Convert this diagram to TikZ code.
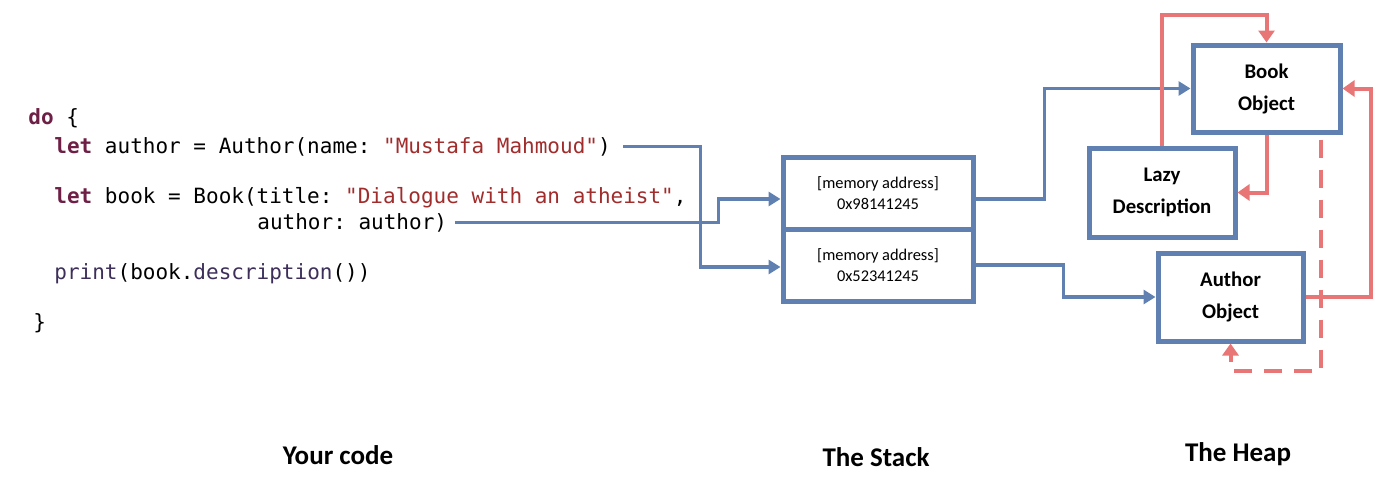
\documentclass[tikz,border=0pt]{standalone}
\usepackage{fontspec}
\setmainfont{Carlito}
\newfontfamily\codefont[Ligatures=TeXOff]{DejaVu Sans Mono}
\usetikzlibrary{arrows.meta,positioning}

\definecolor{stackblue}{HTML}{5F80B0}
\definecolor{heapred}{HTML}{E87676}
\definecolor{kwcolor}{HTML}{6E1F45}
\definecolor{strcolor}{HTML}{A12C2C}
\definecolor{fncolor}{HTML}{3D2F5A}

\newcommand{\kwd}[1]{\textcolor{kwcolor}{\bfseries #1}}
\newcommand{\strlit}[1]{\textcolor{strcolor}{#1}}
\newcommand{\fnname}[1]{\textcolor{fncolor}{#1}}

\begin{document}
\begin{tikzpicture}[x=0.5pt,y=-0.5pt,
  codeline/.style={anchor=base west,inner sep=0pt,font=\codefont\fontsize{10.5}{12}\selectfont\frenchspacing},
  addrbox/.style={draw=stackblue,line width=2.5pt,fill=white,minimum width=95pt,minimum height=36pt,align=center,font=\fontsize{8.2}{10.5}\selectfont},
  heapbox/.style={draw=stackblue,line width=2.5pt,fill=white,align=center,font=\bfseries\fontsize{10.4}{16}\selectfont},
  stackline/.style={draw=stackblue,line width=1.6pt,-{Triangle[length=6pt,width=7pt]}},
  heapline/.style={draw=heapred,line width=2pt,-{Triangle[length=6pt,width=8pt]}},
  caption/.style={font=\bfseries\fontsize{13.5}{16}\selectfont}]
\useasboundingbox (0,0) rectangle (1400,498);

% Your code
\node[codeline] (codedo) at (28,124) {\kwd{do} \{};
\node[codeline] (codeauthor) at (54,153) {\kwd{let} author = Author(name: \strlit{"Mustafa Mahmoud"})};
\node[codeline] (codebook) at (54,203) {\kwd{let} book = Book(title: \strlit{"Dialogue with an atheist"},};
\node[codeline] (codebookarg) at (257,229) {author: author)};
\node[codeline] (codeprint) at (54,279) {\fnname{print}(book.\fnname{description}())};
\node[codeline] (codeend) at (33,329) {\}};

% The Stack
\node[addrbox] (addrbook) at (878,193) {[memory address]\\0x98141245};
\node[addrbox] (addrauthor) at (878,265) {[memory address]\\0x52341245};

% The Heap
\node[heapbox,minimum width=73.5pt,minimum height=43.5pt] (bookobj) at (1266.5,88.5) {Book\\Object};
\node[heapbox,minimum width=73pt,minimum height=44.5pt] (lazydesc) at (1162,192.5) {Lazy\\Description};
\node[heapbox,minimum width=72.5pt,minimum height=44pt] (authorobj) at (1230.5,297) {Author\\Object};

% references from the code to the stack
\draw[stackline] ([xshift=6pt]codeauthor.east) -| ([xshift=-40pt,yshift=-1pt]addrauthor.west) -- ([yshift=-1pt]addrauthor.west);
\draw[stackline] ([xshift=4pt]codebookarg.east) -| ([xshift=-31pt,yshift=-3pt]addrbook.west) -- ([yshift=-3pt]addrbook.west);

% references from the stack to the heap
\draw[stackline] ([yshift=-3pt]addrbook.east) -| ([xshift=-73pt]bookobj.west) -- (bookobj.west);
\draw[stackline] (addrauthor.east) -| ([xshift=-46pt]authorobj.west) -- (authorobj.west);

% references inside the heap
\draw[heapline] (lazydesc.north) |- ([yshift=14pt]bookobj.north) -- (bookobj.north);
\draw[heapline] (bookobj.south) |- (lazydesc.east);
\draw[heapline] (authorobj.east) -| ([xshift=14pt]bookobj.east) -- (bookobj.east);
\draw[heapline,dash pattern=on 9pt off 6pt] ([xshift=27pt,yshift=-2.5pt]bookobj.south) |- ([yshift=-13.5pt]authorobj.south) -- (authorobj.south);

\node[caption] (codecap) at (338,455) {Your code};
\node[caption] (stackcap) at (876,457) {The Stack};
\node[caption] (heapcap) at (1238,454) {The Heap};
\end{tikzpicture}
\end{document}
